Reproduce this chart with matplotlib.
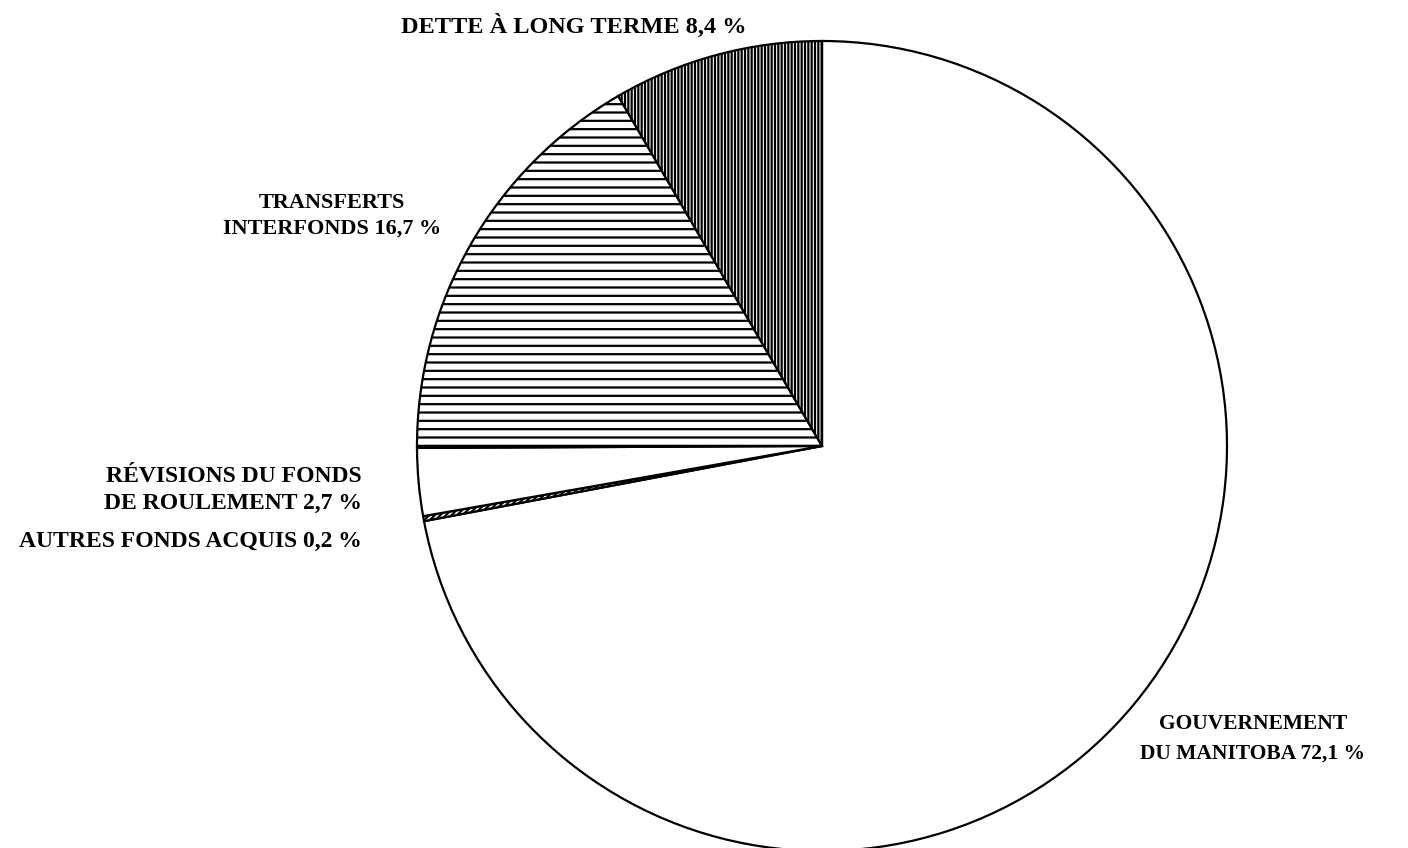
import matplotlib
matplotlib.use("Agg")
import matplotlib.pyplot as plt

# shares, clockwise from 12 o'clock
labels = ["GOUVERNEMENT\nDU MANITOBA 72,1 %",
          "AUTRES FONDS ACQUIS 0,2 %",
          "RÉVISIONS DU FONDS\nDE ROULEMENT 2,7 %",
          "TRANSFERTS\nINTERFONDS 16,7 %",
          "DETTE À LONG TERME 8,4 %"]
values = [72.1, 0.2, 2.7, 16.7, 8.4]
hatches = ["", "//////", "", "--", "|||||"]

plt.rcParams['font.family'] = ['Liberation Serif', 'DejaVu Serif']
plt.rcParams['hatch.linewidth'] = 1.6

W, H = 1408, 848
fig = plt.figure(figsize=(W / 100, H / 100), dpi=100)
ax = fig.add_axes([0, 0, 1, 1])

cx, cy, r = 822, H - 446, 405
wedges, _ = ax.pie(values, center=(cx, cy), radius=r, startangle=90,
                   counterclock=False, colors=['white'] * len(values),
                   wedgeprops=dict(edgecolor='black', linewidth=1.6))
for w, h in zip(wedges, hatches):
    w.set_hatch(h)

ax.set_xlim(0, W)
ax.set_ylim(0, H)
ax.set_aspect('equal')
ax.axis('off')

# label anchors (pixel positions)
lab_x = [1253, 362, 362, 332, 574]
lab_y = [739, 541, 490, 216, 26]
lab_ha = ['center', 'right', 'right', 'center', 'center']
lab_fs = [15.5, 17, 17, 16, 17.5]
lab_ls = [1.63, 1.2, 1.42, 1.4, 1.2]
for t, x, y, ha, fs, ls in zip(labels, lab_x, lab_y, lab_ha, lab_fs, lab_ls):
    ax.text(x, H - y, t, ha=ha, va='center', fontsize=fs,
            fontweight='bold', multialignment=ha, linespacing=ls)

fig.savefig("out.png", dpi=100)
